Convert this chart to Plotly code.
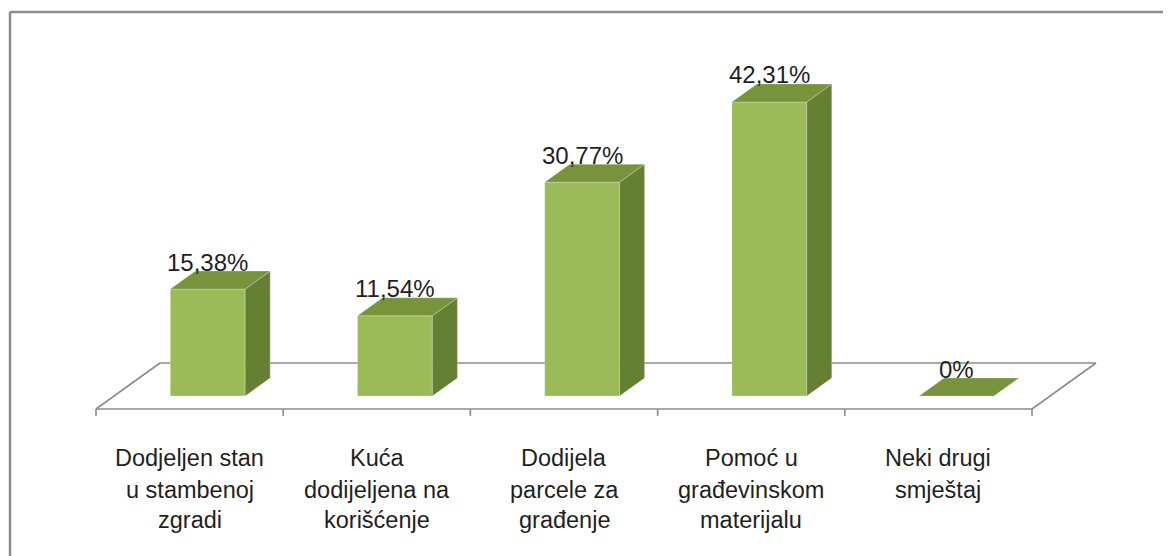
import plotly.graph_objects as go

# ---------------- data ----------------
category_lines = [
    ["Dodjeljen stan", "u stambenoj", "zgradi"],
    ["Kuća", "dodijeljena na", "korišćenje"],
    ["Dodijela", "parcele za", "građenje"],
    ["Pomoć u", "građevinskom", "materijalu"],
    ["Neki drugi", "smještaj"],
]
values = [15.38, 11.54, 30.77, 42.31, 0.0]
value_labels = ["15,38%", "11,54%", "30,77%", "42,31%", "0%"]

# ---------------- geometry (pseudo-3D projection) ----------------
OFF = 8             # page body margin that the browser adds around the figure
W, H = 1171, 556
PX_CAT = 187.2      # pixels per category
X0PX = 96 - OFF     # pixel of category-axis origin (figure coords)
PX_PCT = 6.949      # pixels per percent
Y0PX = 409 - OFF    # pixel of value 0 at front of floor
DX = 64 / PX_CAT    # depth offset in category units
DY = 46 / PX_PCT    # depth offset in percent units
D_F, D_B = 0.283, 0.674
BAR_W = 0.40

FRONT = "#9BBB59"
TOP = "#77933C"
SIDE = "#657F33"
GRID = "#8C8C8C"
TXT = "#1F1F1F"
FONT = "Liberation Sans, Arial, sans-serif"


def proj(u, v, d):
    return u + d * DX, v + d * DY


def poly(pts, color):
    xs, ys = zip(*[proj(*p) for p in pts])
    xs = list(xs) + [xs[0]]
    ys = list(ys) + [ys[0]]
    return go.Scatter(x=xs, y=ys, mode="lines", fill="toself", fillcolor=color,
                      line=dict(color="rgba(255,255,255,0.25)", width=1),
                      hoverinfo="skip", showlegend=False)


def line(pts, width=1.6):
    xs, ys = zip(*[proj(*p) for p in pts])
    return go.Scatter(x=list(xs), y=list(ys), mode="lines",
                      line=dict(color=GRID, width=width),
                      hoverinfo="skip", showlegend=False)


fig = go.Figure()
n = len(values)

# floor
fig.add_trace(line([(0, 0, 0), (n, 0, 0)]))
fig.add_trace(line([(0, 0, 1), (n, 0, 1)]))
fig.add_trace(line([(0, 0, 0), (0, 0, 1)]))
fig.add_trace(line([(n, 0, 0), (n, 0, 1)]))
tick_len = 7 / PX_PCT
for i in range(n + 1):
    fig.add_trace(line([(i, 0, 0), (i, -tick_len, 0)]))

# bars
annotations = []
for i, v in enumerate(values):
    c = i + 0.5
    l, r = c - BAR_W / 2, c + BAR_W / 2
    if v > 0:
        fig.add_trace(poly([(l, 0, D_F), (r, 0, D_F), (r, v, D_F), (l, v, D_F)], FRONT))
        fig.add_trace(poly([(r, 0, D_F), (r, 0, D_B), (r, v, D_B), (r, v, D_F)], SIDE))
    fig.add_trace(poly([(l, v, D_F), (r, v, D_F), (r, v, D_B), (l, v, D_B)], TOP))
    lx, _ = proj(c, v, D_F)
    _, ly = proj(c, v, D_B)
    annotations.append(dict(x=lx, y=ly, xref="x", yref="y", text=value_labels[i],
                            showarrow=False, xanchor="center", yanchor="middle", yshift=9,
                            font=dict(family=FONT, size=24, color=TXT)))

# category labels (one annotation per line to keep Excel-like line spacing)
line_px = [458 - OFF, 490 - OFF, 520 - OFF]
for i, lines in enumerate(category_lines):
    for k, t in enumerate(lines):
        annotations.append(dict(x=i + 0.5, y=(Y0PX - line_px[k]) / PX_PCT, xref="x", yref="y",
                                text=t, showarrow=False, xanchor="center", yanchor="middle",
                                font=dict(family=FONT, size=23.5, color=TXT)))

fig.update_layout(
    width=W, height=H,
    margin=dict(l=0, r=0, t=0, b=0),
    paper_bgcolor="white", plot_bgcolor="white",
    showlegend=False,
    xaxis=dict(range=[-X0PX / PX_CAT, (W - X0PX) / PX_CAT], visible=False, fixedrange=True),
    yaxis=dict(range=[(Y0PX - H) / PX_PCT, Y0PX / PX_PCT], visible=False, fixedrange=True),
    annotations=annotations,
    shapes=[
        dict(type="line", xref="paper", yref="paper", x0=(10 - OFF) / W, x1=(10 - OFF) / W,
             y0=1 - (12 - OFF) / H, y1=0, line=dict(color=GRID, width=2.5)),
        dict(type="line", xref="paper", yref="paper", x0=(10 - OFF) / W, x1=1,
             y0=1 - (12 - OFF) / H, y1=1 - (12 - OFF) / H, line=dict(color=GRID, width=2.5)),
    ],
)

fig.write_html("out.html")
